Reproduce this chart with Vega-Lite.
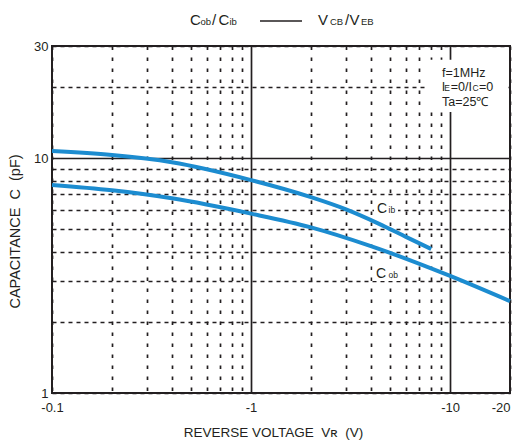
{
  "$schema": "https://vega.github.io/schema/vega-lite/v6.json",
  "width": 458,
  "height": 347,
  "autosize": {"type": "none"},
  "padding": {"left": 52, "top": 46, "right": 18, "bottom": 47},
  "background": "white",
  "config": {
    "font": "Liberation Sans",
    "view": {"stroke": "#231f20", "strokeWidth": 2},
    "axis": {
      "domain": false,
      "ticks": false,
      "grid": true,
      "gridColor": "#231f20",
      "gridOpacity": 1,
      "gridWidth": 1.7,
      "labelColor": "#231f20",
      "labelFont": "Liberation Sans",
      "labelFontSize": 13,
      "titleColor": "#231f20",
      "titleFont": "Liberation Sans",
      "titleFontWeight": "normal"
    }
  },
  "datasets": {
    "curves": [
      {"series": "Cib", "v": 0.1, "c": 10.71},
      {"series": "Cib", "v": 0.2, "c": 10.3},
      {"series": "Cib", "v": 0.4, "c": 9.6},
      {"series": "Cib", "v": 1.0, "c": 8.06},
      {"series": "Cib", "v": 2.0, "c": 6.82},
      {"series": "Cib", "v": 3.0, "c": 6.05},
      {"series": "Cib", "v": 4.4, "c": 5.25},
      {"series": "Cib", "v": 6.0, "c": 4.62},
      {"series": "Cib", "v": 8.04, "c": 4.1},
      {"series": "Cob", "v": 0.1, "c": 7.68},
      {"series": "Cob", "v": 0.2, "c": 7.29},
      {"series": "Cob", "v": 0.4, "c": 6.74},
      {"series": "Cob", "v": 1.0, "c": 5.8},
      {"series": "Cob", "v": 2.0, "c": 5.07},
      {"series": "Cob", "v": 4.0, "c": 4.22},
      {"series": "Cob", "v": 10, "c": 3.15},
      {"series": "Cob", "v": 20, "c": 2.46}
    ],
    "keyLine": [
      {"v": 1.109, "v2": 1.803, "c": 38.35}
    ],
    "textBacks": [
      {"v": 7.74, "v2": 18.9, "c": 26.2, "c2": 15.7},
      {"v": 4.148, "v2": 5.475, "c": 6.763, "c2": 5.669},
      {"v": 4.078, "v2": 5.603, "c": 3.576, "c2": 2.998}
    ],
    "labels": [
      {"t": "C", "v": 0.4935, "c": 36.77, "s": 15},
      {"t": "ob", "v": 0.5572, "c": 36.77, "s": 9.5},
      {"t": "/", "v": 0.6367, "c": 36.77, "s": 15},
      {"t": "C", "v": 0.6864, "c": 36.77, "s": 15},
      {"t": "ib", "v": 0.7794, "c": 36.77, "s": 9.5},
      {"t": "V", "v": 2.17, "c": 36.77, "s": 15},
      {"t": "CB", "v": 2.493, "c": 36.77, "s": 9.5},
      {"t": "/", "v": 2.966, "c": 36.77, "s": 15},
      {"t": "V", "v": 3.124, "c": 36.77, "s": 15},
      {"t": "EB", "v": 3.568, "c": 36.77, "s": 9.5},
      {"t": "f=1MHz", "v": 9.108, "c": 22.14, "s": 12.5},
      {"t": "I", "v": 9.077, "c": 19.31, "s": 12.5},
      {"t": "E", "v": 9.355, "c": 19.31, "s": 8.5},
      {"t": "=0/I", "v": 10.07, "c": 19.31, "s": 12.5},
      {"t": "C", "v": 12.96, "c": 19.31, "s": 8.5},
      {"t": "=0", "v": 13.98, "c": 19.31, "s": 12.5},
      {"t": "Ta=25℃", "v": 9.108, "c": 16.67, "s": 12.5},
      {"t": "C", "v": 4.295, "c": 5.84, "s": 14},
      {"t": "ib", "v": 4.905, "c": 5.84, "s": 8.5},
      {"t": "C", "v": 4.245, "c": 3.087, "s": 14},
      {"t": "ob", "v": 4.905, "c": 3.087, "s": 8.5}
    ]
  },
  "encoding": {
    "x": {
      "field": "v",
      "type": "quantitative",
      "scale": {"type": "log", "domain": [0.1, 20], "nice": false},
      "axis": {
        "values": [0.1, 0.2, 0.3, 0.4, 0.5, 0.6, 0.7, 0.8, 0.9, 1, 2, 3, 4, 5, 6, 7, 8, 9, 10, 20],
        "labelExpr": "datum.value == 0.1 ? '-0.1' : datum.value == 1 ? '-1' : datum.value == 10 ? '-10' : datum.value == 20 ? '-20' : ''",
        "labelAlign": {"condition": {"test": "datum.value >= 20", "value": "right"}, "value": "center"},
        "labelPadding": 8,
        "gridDash": {"condition": {"test": "datum.value == 1 || datum.value == 10", "value": []}, "value": [3.5, 7.5]},
        "title": "REVERSE VOLTAGE \u00a0V\u0280\u00a0\u00a0(V)",
        "titleFontSize": 13.5,
        "titlePadding": 11,
        "titleX": 221
      }
    },
    "y": {
      "field": "c",
      "type": "quantitative",
      "scale": {"type": "log", "domain": [1, 30], "nice": false},
      "axis": {
        "values": [1, 2, 3, 4, 5, 6, 7, 8, 9, 10, 20, 30],
        "labelExpr": "datum.value == 1 ? '1' : datum.value == 10 ? '10' : datum.value == 30 ? '30' : ''",
        "labelPadding": 4,
        "gridDash": {"condition": {"test": "datum.value == 10", "value": []}, "value": [4, 4]},
        "title": "CAPACITANCE\u00a0\u00a0C\u00a0\u00a0(pF)",
        "titleFontSize": 14.5,
        "titlePadding": 11,
        "titleY": 185
      }
    }
  },
  "layer": [
    {
      "data": {"name": "textBacks"},
      "mark": {"type": "rect", "fill": "white", "stroke": null},
      "encoding": {
        "x2": {"field": "v2"},
        "y2": {"field": "c2"}
      }
    },
    {
      "data": {"name": "curves"},
      "mark": {"type": "line", "interpolate": "monotone", "strokeWidth": 4, "color": "#1c8cd0", "strokeCap": "butt"},
      "encoding": {
        "detail": {"field": "series"}
      }
    },
    {
      "data": {"name": "keyLine"},
      "mark": {"type": "rule", "color": "#231f20", "strokeWidth": 1.6},
      "encoding": {
        "x2": {"field": "v2"}
      }
    },
    {
      "data": {"name": "labels"},
      "mark": {"type": "text", "align": "left", "baseline": "alphabetic", "color": "#231f20", "font": "Liberation Sans"},
      "encoding": {
        "text": {"field": "t"},
        "size": {"field": "s", "type": "quantitative", "scale": null, "legend": null}
      }
    }
  ]
}
